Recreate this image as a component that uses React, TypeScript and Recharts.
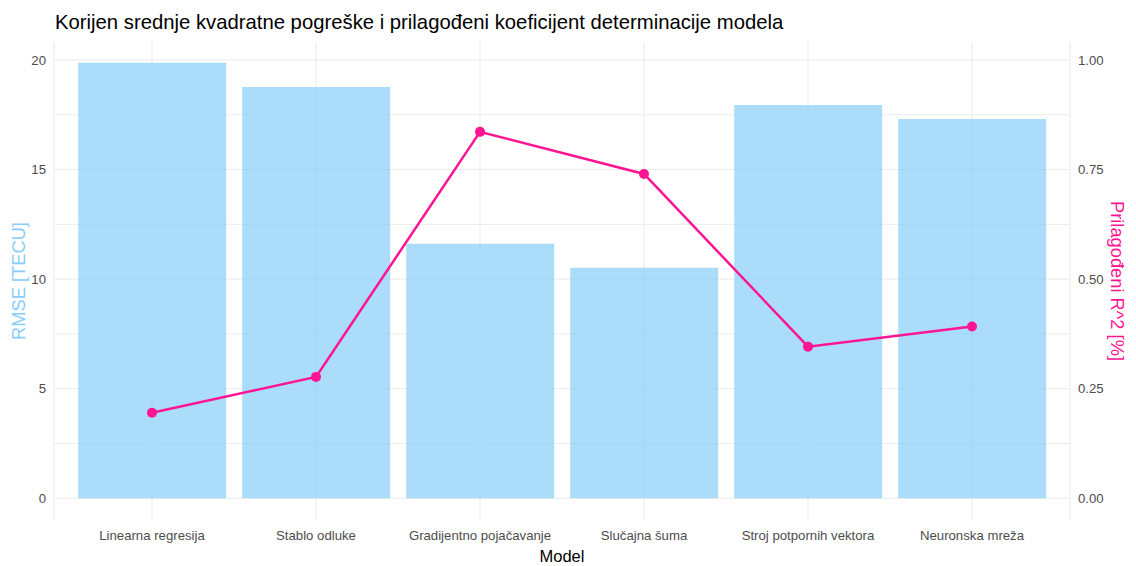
import {
    ComposedChart,
    Bar,
    Line,
    XAxis,
    YAxis,
    CartesianGrid,
} from "recharts";

const models = [
    "Linearna regresija",
    "Stablo odluke",
    "Gradijentno pojačavanje",
    "Slučajna šuma",
    "Stroj potpornih vektora",
    "Neuronska mreža",
];
const rmse = [19.87, 18.77, 11.62, 10.52, 17.95, 17.31];
const r2 = [0.195, 0.277, 0.836, 0.74, 0.346, 0.392];

const rmseTicks = [0, 5, 10, 15, 20];
const r2Ticks = [0, 0.25, 0.5, 0.75, 1];
const gridValues = [0, 2.5, 5, 7.5, 10, 12.5, 15, 17.5, 20];

const data = models.map((model, i) => ({ model, rmse: rmse[i], r2: r2[i] }));

const font = "'Liberation Sans', Arial, sans-serif";
const tickStyle = { fill: "#4D4D4D", fontSize: 13.2, fontFamily: font };

export default function App() {
    return (
        <div
            style={{
                position: "absolute",
                left: 0,
                top: 0,
                width: 1136,
                height: 566,
                background: "#fff",
                fontFamily: font,
            }}
        >
            <div
                style={{
                    position: "absolute",
                    left: 55,
                    top: 11,
                    fontSize: 20.3,
                    color: "#000",
                    whiteSpace: "nowrap",
                }}
            >
                Korijen srednje kvadratne pogreške i prilagođeni koeficijent determinacije modela
            </div>
            <ComposedChart
                width={1136}
                height={566}
                data={data}
                margin={{ top: 42, right: 0, bottom: 0, left: 0 }}
                barCategoryGap="5%"
            >
                <CartesianGrid
                    yAxisId="left"
                    stroke="#EBEBEB"
                    horizontalValues={gridValues}
                />
                <XAxis
                    dataKey="model"
                    height={46}
                    padding={{ left: 16, right: 16 }}
                    axisLine={false}
                    tickLine={false}
                    tickMargin={5}
                    tick={tickStyle}
                    interval={0}
                    label={{
                        value: "Model",
                        position: "insideBottom",
                        offset: 4,
                        fontSize: 16.5,
                        fill: "#000",
                        fontFamily: font,
                    }}
                />
                <YAxis
                    yAxisId="left"
                    width={54}
                    domain={[-0.99, 20.82]}
                    ticks={rmseTicks}
                    axisLine={false}
                    tickLine={false}
                    tick={tickStyle}
                    label={{
                        value: "RMSE [TECU]",
                        angle: -90,
                        position: "insideLeft",
                        offset: 19,
                        fontSize: 18.3,
                        fill: "#87CEFA",
                        fontFamily: font,
                        style: { textAnchor: "middle" },
                    }}
                />
                <YAxis
                    yAxisId="right"
                    orientation="right"
                    width={66}
                    domain={[-0.0495, 1.041]}
                    ticks={r2Ticks}
                    tickFormatter={(v: number) => v.toFixed(2)}
                    axisLine={false}
                    tickLine={false}
                    tick={tickStyle}
                    label={{
                        value: "Prilagođeni R^2 [%]",
                        angle: 90,
                        position: "insideRight",
                        offset: 19,
                        fontSize: 18.3,
                        fill: "#FF1493",
                        fontFamily: font,
                        style: { textAnchor: "middle" },
                    }}
                />
                <Bar
                    yAxisId="left"
                    dataKey="rmse"
                    fill="#87CEFA"
                    fillOpacity={0.7}
                    isAnimationActive={false}
                />
                <Line
                    yAxisId="right"
                    dataKey="r2"
                    type="linear"
                    stroke="#FF1493"
                    strokeWidth={2.5}
                    dot={{ r: 5, fill: "#FF1493", stroke: "none" }}
                    activeDot={false}
                    isAnimationActive={false}
                />
            </ComposedChart>
        </div>
    );
}
